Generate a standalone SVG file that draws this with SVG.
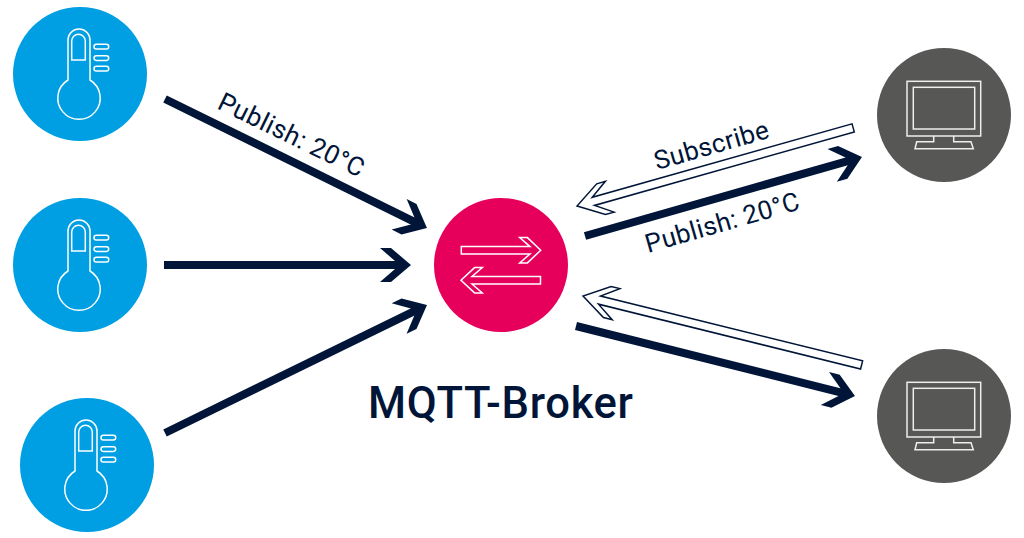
<svg xmlns="http://www.w3.org/2000/svg" xmlns:xlink="http://www.w3.org/1999/xlink" width="1024" height="538" viewBox="0 0 1024 538">
<style>
.sensor{fill:#009fe3}.client{fill:#575756}.broker{fill:#e6005c}
.ico{fill:none;stroke:#fff;stroke-width:1.5}
.mon{fill:none;stroke:#eee;stroke-width:1.5}
.solid{stroke:#001538;stroke-width:8;fill:none;marker-end:url(#head)}
.hollow{fill:#fff;stroke:#001538;stroke-width:1.5}
text{font-family:"Roboto","Liberation Sans",sans-serif;fill:#001538}
.lab{font-size:26px;letter-spacing:.4px;font-weight:400}
.title{font-size:43.5px;letter-spacing:.7px;font-weight:500}
</style>
<defs>
<marker id="head" markerUnits="userSpaceOnUse" viewBox="-34 -20 36 40" markerWidth="36" markerHeight="40" refX="-14" refY="0" orient="auto"><polygon points="0,0 -20,-17 -31,-17 -16,-4 -16,4 -31,17 -20,17" fill="#001538"/></marker>
<g id="therm" class="ico">
<path d="M-12,6 V-34 A11,11 0 0 1 10,-34 V6 A21.2,21.2 0 1 1 -12,6 Z"/>
<path d="M-8.3,-14 V-33 A6.8,6.8 0 0 1 5.3,-33 V-14 Z"/>
<rect x="14" y="-29.7" width="14.7" height="4.7" rx="2.3"/>
<rect x="14" y="-18.3" width="14.7" height="4.7" rx="2.3"/>
<rect x="14" y="-7.7" width="14.7" height="4.7" rx="2.3"/>
</g>
<g id="screen" class="mon">
<rect x="-37" y="-33.7" width="73.7" height="54.7"/>
<rect x="-30.7" y="-27.7" width="61.4" height="41.7"/>
<path d="M-10.3,21 V26.7 H-27.3 L-29,33.7 H29.3 L27,26.7 H9.7 V21"/>
</g>
<polygon id="hollow" points="0,0 -25,-16 -34,-16 -17,-4.2 -287,-4.2 -287,4.2 -17,4.2 -34,16 -25,16"/>
</defs>
<g id="connectors">
<line class="solid" x1="165" y1="99" x2="414.4" y2="221.8"/>
<line class="solid" x1="164" y1="265" x2="397" y2="265"/>
<line class="solid" x1="165" y1="433" x2="414.4" y2="311.1"/>
<line class="solid" x1="585" y1="236" x2="848.5" y2="160.8"/>
<line class="solid" x1="576" y1="326" x2="841.4" y2="392.6"/>
<use href="#hollow" class="hollow" transform="translate(577,206) rotate(164.2)"/>
<use href="#hollow" class="hollow" transform="translate(583,296) rotate(193.9)"/>
</g>
<g id="sensor-1"><circle class="sensor" cx="80" cy="74" r="67"/><use href="#therm" transform="translate(80,74)"/></g>
<g id="sensor-2"><circle class="sensor" cx="80" cy="265" r="67"/><use href="#therm" transform="translate(80,265)"/></g>
<g id="sensor-3"><circle class="sensor" cx="87" cy="465" r="67"/><use href="#therm" transform="translate(87,465)"/></g>
<g id="client-1"><circle class="client" cx="944" cy="115" r="67"/><use href="#screen" transform="translate(944,115)"/></g>
<g id="client-2"><circle class="client" cx="944" cy="416" r="67"/><use href="#screen" transform="translate(944,416)"/></g>
<g id="broker"><circle class="broker" cx="501" cy="265" r="67"/>
<polygon class="ico" points="461.3,246.6 530,246.6 519.7,237.6 527.4,237.6 540.7,250.3 527.4,262.9 519.7,262.9 530,254 461.3,254"/>
<polygon class="ico" points="540.5,276.5 472,276.5 482.3,267.6 474.6,267.6 461,280.2 474.6,292.9 482.3,292.9 472,284 540.5,284"/>
<text class="title" x="368" y="418">MQTT-Broker</text></g>
<text class="lab" transform="translate(216,108) rotate(26)">Publish: 20°C</text>
<text class="lab" transform="translate(657,170) rotate(-16)">Subscribe</text>
<text class="lab" transform="translate(648,253) rotate(-16)">Publish: 20°C</text>
</svg>
